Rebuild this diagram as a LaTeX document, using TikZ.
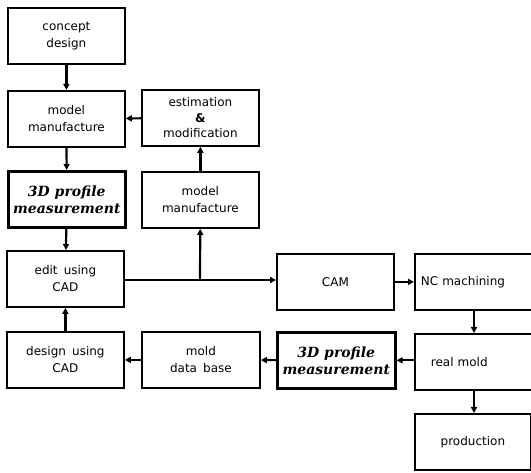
\documentclass[tikz,border=0pt]{standalone}
\usepackage{fontspec}
\setmainfont{DejaVu Sans}[WordSpace={1.6}]
\newfontfamily\measfont{DejaVu Serif}
\usetikzlibrary{arrows.meta}
\begin{document}
\begin{tikzpicture}[x=1pt,y=-1pt,
  box/.style={draw,line width=1.8pt,minimum width=117pt,minimum height=56pt,anchor=north west,align=center,inner sep=0pt,font=\fontsize{12}{17}\selectfont},
  boldbox/.style={box,line width=2.6pt,font=\measfont\fontsize{14}{17}\selectfont\bfseries\itshape},
  conn/.style={line width=2.2pt,-{Triangle[length=6pt,width=6pt]}}]
\clip (0,0) rectangle (531,473);
\useasboundingbox (0,0) rectangle (531,473);
\node[box] (concept) at (7,7) {concept\\design};
\node[box] (mm1) at (7,90) {model\\manufacture};
\node[box,font=\fontsize{12}{15.5}\selectfont] (est) at (141,89) {estimation\\\textbf{\&}\\modification};
\node[boldbox] (meas1) at (7,170) {3D profile\\measurement};
\node[box] (mm2) at (141,171) {model\\manufacture};
\node[box] (edit) at (6,250) {edit using\\CAD};
\node[box] (cam) at (276,253) {CAM};
\node[box,minimum width=120pt,text width=116pt,align=left] (nc) at (414,253) {\hspace*{4pt}NC machining};
\node[box] (design) at (6,331) {design using\\CAD};
\node[box,minimum width=118pt] (mdb) at (141,331) {mold\\data base};
\node[boldbox,minimum width=118pt] (meas2) at (276,331) {3D profile\\measurement};
\node[box,minimum width=120pt,text width=116pt,align=left] (real) at (414,333) {\hspace*{14pt}real mold};
\node[box,minimum width=116pt] (prod) at (414,413) {production};
\coordinate (br) at (200,280);
\draw[conn] (concept) -- (mm1);
\draw[conn] (mm1) -- (meas1);
\draw[conn] (est) -- (mm1);
\draw[conn] (mm2) -- (est);
\draw[conn] (meas1) -- (edit);
\draw[conn] (edit.east |- br) -- (br) -- (cam.west |- br);
\draw[conn] (br) -- (mm2);
\draw[conn] (design) -- (edit);
\draw[conn] (mdb) -- (design);
\draw[conn] (meas2) -- (mdb);
\draw[conn] (real.west |- meas2.west) -- (meas2);
\draw[conn] (cam) -- (nc.west |- cam.east);
\draw[conn] ([xshift=60pt]nc.south west) -- ([xshift=60pt]real.north west);
\draw[conn] ([xshift=60pt]real.south west) -- ([xshift=60pt]prod.north west);
\end{tikzpicture}
\end{document}
